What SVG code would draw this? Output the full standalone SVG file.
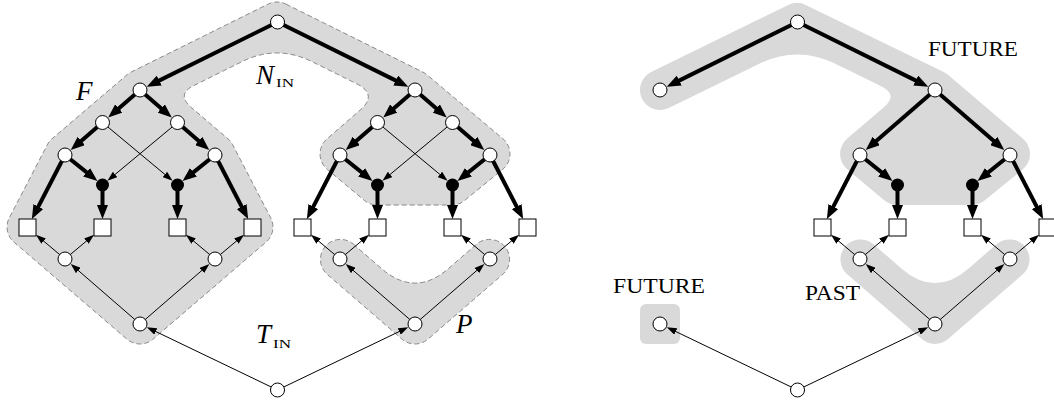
<svg xmlns="http://www.w3.org/2000/svg" width="1054" height="403" viewBox="0 0 1054 403">
<style>
.reg{fill:#d9d9d9}
.dash{stroke:#8a8a8a;stroke-width:1;stroke-dasharray:5 3}
.w{fill:#fff;stroke:#000;stroke-width:1}
.b{fill:#000}
.thick{stroke:#000;stroke-width:4;fill:none;marker-end:url(#ah)}
.thin{stroke:#000;stroke-width:1;fill:none;marker-end:url(#at)}
.it{font-family:"Liberation Serif",serif;font-style:italic;font-size:27px;fill:#000}
.sc{font-family:"Liberation Serif",serif;font-size:20px;fill:#000}
.sub{font-family:"Liberation Serif",serif;font-size:13.5px;fill:#000}
</style>
<defs>
<marker id="ah" markerUnits="userSpaceOnUse" markerWidth="15" markerHeight="11" refX="7" refY="5.5" orient="auto"><path d="M0,0 L14,5.5 L0,11 z" fill="#000"/></marker>
<marker id="at" markerUnits="userSpaceOnUse" markerWidth="10" markerHeight="7" refX="5" refY="3.5" orient="auto"><path d="M0,0 L10,3.5 L0,7 z" fill="#000"/></marker>
<path id="vshape" d="M353.1,243.9 L381.7,268.7 Q415,297.5 448.3,268.7 L476.9,243.9 A20,20 0 0 1 503.1,274.1 L428.1,339.1 A20,20 0 0 1 401.9,339.1 L326.9,274.1 A20,20 0 0 1 353.1,243.9 Z"/>
</defs>

<g id="regions">
<path id="region-F" class="reg dash" d="M285.9,4.1 L422.9,72.1 A20,20 0 0 1 426.9,74.7 L502.9,138.7 A20,20 0 0 1 502.6,169.5 L464.6,200.5 A20,20 0 0 1 452,205 L377,205 A20,20 0 0 1 364.2,200.3 L327.2,169.3 A20,20 0 0 1 326.9,138.9 L360.0,110.2 Q378.2,94.5 356.7,83.8 L311.9,61.6 Q277,44.3 242.1,61.6 L193.9,85.5 Q176.0,94.4 191.2,107.4 L228.0,138.8 A20,20 0 0 1 232.7,144.8 L270.7,217.8 A20,20 0 0 1 266.0,242.2 L153.0,339.2 A20,20 0 0 1 127.0,339.2 L14.0,242.2 A20,20 0 0 1 9.3,217.8 L47.3,144.8 A20,20 0 0 1 52.0,138.8 L127.0,74.8 A20,20 0 0 1 131.1,72.1 L268.1,4.1 A20,20 0 0 1 285.9,4.1 Z"/>
<use id="region-P" href="#vshape" class="reg dash"/>
<path id="region-future-main" class="reg" d="M651.2,72.0 L788.2,5.0 A20,20 0 0 1 805.7,5.0 L943.7,72.0 A20,20 0 0 1 948.0,74.8 L1023.0,138.8 A20,20 0 0 1 1022.6,169.5 L984.6,200.5 A20,20 0 0 1 972,205 L897,205 A20,20 0 0 1 884.2,200.3 L847.2,169.3 A20,20 0 0 1 847.0,138.8 L883.6,107.6 Q898.8,94.6 880.8,85.9 L834.8,63.5 Q797,45.2 759.3,63.7 L668.8,108.0 A20,20 0 0 1 651.2,72.0 Z"/>
<use id="region-past" href="#vshape" class="reg" transform="translate(520,0)"/>
<rect id="region-future-small" class="reg" x="640" y="304" width="40" height="40" rx="6"/>
</g>

<g id="connectors">
<line class="thick" x1="277.5" y1="22" x2="153.0" y2="83.6"/>
<line class="thick" x1="277.5" y1="22" x2="402.0" y2="83.6"/>
<line class="thick" x1="140" y1="90" x2="113.5" y2="113.0"/>
<line class="thick" x1="140" y1="90" x2="166.5" y2="113.0"/>
<line class="thick" x1="102.5" y1="122.5" x2="76.0" y2="145.5"/>
<line class="thick" x1="177.5" y1="122.5" x2="204.0" y2="145.5"/>
<line class="thick" x1="65" y1="155" x2="92.0" y2="176.6"/>
<line class="thick" x1="215" y1="155" x2="188.0" y2="176.6"/>
<line class="thick" x1="65" y1="155" x2="35.1" y2="212.8"/>
<line class="thick" x1="215" y1="155" x2="244.9" y2="212.8"/>
<line class="thick" x1="102.5" y1="185" x2="102.5" y2="212.0"/>
<line class="thick" x1="177.5" y1="185" x2="177.5" y2="212.0"/>
<line class="thin" x1="102.5" y1="122.5" x2="168.7" y2="177.6"/>
<line class="thin" x1="177.5" y1="122.5" x2="111.3" y2="177.6"/>
<line class="thin" x1="65" y1="259" x2="39.8" y2="237.9"/>
<line class="thin" x1="65" y1="259" x2="90.2" y2="237.9"/>
<line class="thin" x1="215" y1="259" x2="189.8" y2="237.9"/>
<line class="thin" x1="215" y1="259" x2="240.2" y2="237.9"/>
<line class="thin" x1="140" y1="324" x2="74.5" y2="267.2"/>
<line class="thin" x1="140" y1="324" x2="205.6" y2="267.2"/>
<line class="thin" x1="277.5" y1="390" x2="151.3" y2="329.4"/>
<line class="thin" x1="277.5" y1="390" x2="403.7" y2="329.4"/>
<line class="thick" x1="415" y1="90" x2="388.5" y2="113.0"/>
<line class="thick" x1="415" y1="90" x2="441.5" y2="113.0"/>
<line class="thick" x1="377.5" y1="122.5" x2="351.0" y2="145.5"/>
<line class="thick" x1="452.5" y1="122.5" x2="479.0" y2="145.5"/>
<line class="thick" x1="340" y1="155" x2="367.0" y2="176.6"/>
<line class="thick" x1="490" y1="155" x2="463.0" y2="176.6"/>
<line class="thick" x1="340" y1="155" x2="310.1" y2="212.8"/>
<line class="thick" x1="490" y1="155" x2="519.9" y2="212.8"/>
<line class="thick" x1="377.5" y1="185" x2="377.5" y2="212.0"/>
<line class="thick" x1="452.5" y1="185" x2="452.5" y2="212.0"/>
<line class="thin" x1="377.5" y1="122.5" x2="443.7" y2="177.6"/>
<line class="thin" x1="452.5" y1="122.5" x2="386.3" y2="177.6"/>
<line class="thin" x1="340" y1="259" x2="314.8" y2="237.9"/>
<line class="thin" x1="340" y1="259" x2="365.2" y2="237.9"/>
<line class="thin" x1="490" y1="259" x2="464.8" y2="237.9"/>
<line class="thin" x1="490" y1="259" x2="515.2" y2="237.9"/>
<line class="thin" x1="415" y1="324" x2="349.5" y2="267.2"/>
<line class="thin" x1="415" y1="324" x2="480.6" y2="267.2"/>
<line class="thick" x1="797.5" y1="22" x2="673.0" y2="83.6"/>
<line class="thick" x1="797.5" y1="22" x2="922.0" y2="83.6"/>
<line class="thick" x1="935" y1="90" x2="871.0" y2="145.5"/>
<line class="thick" x1="935" y1="90" x2="999.0" y2="145.5"/>
<line class="thick" x1="860" y1="155" x2="887.0" y2="176.6"/>
<line class="thick" x1="1010" y1="155" x2="983.0" y2="176.6"/>
<line class="thick" x1="860" y1="155" x2="830.1" y2="212.8"/>
<line class="thick" x1="1010" y1="155" x2="1039.9" y2="212.8"/>
<line class="thick" x1="897.5" y1="185" x2="897.5" y2="212.0"/>
<line class="thick" x1="972.5" y1="185" x2="972.5" y2="212.0"/>
<line class="thin" x1="860" y1="259" x2="834.8" y2="237.9"/>
<line class="thin" x1="860" y1="259" x2="885.2" y2="237.9"/>
<line class="thin" x1="1010" y1="259" x2="984.8" y2="237.9"/>
<line class="thin" x1="1010" y1="259" x2="1035.2" y2="237.9"/>
<line class="thin" x1="935" y1="324" x2="869.5" y2="267.2"/>
<line class="thin" x1="935" y1="324" x2="1000.6" y2="267.2"/>
<line class="thin" x1="797.5" y1="390" x2="671.3" y2="329.4"/>
<line class="thin" x1="797.5" y1="390" x2="923.7" y2="329.4"/>
</g>

<g id="n-top"><circle class="w" cx="277.5" cy="22" r="7"/></g>
<g id="n-l1"><circle class="w" cx="140" cy="90" r="7"/></g>
<g id="n-l2a"><circle class="w" cx="102.5" cy="122.5" r="7"/></g>
<g id="n-l2b"><circle class="w" cx="177.5" cy="122.5" r="7"/></g>
<g id="n-l3a"><circle class="w" cx="65" cy="155" r="7"/></g>
<g id="n-l3b"><circle class="w" cx="215" cy="155" r="7"/></g>
<g id="n-lba"><circle class="b" cx="102.5" cy="185" r="6.5"/></g>
<g id="n-lbb"><circle class="b" cx="177.5" cy="185" r="6.5"/></g>
<g id="n-ls1"><rect class="w" x="19" y="219" width="17" height="17"/></g>
<g id="n-ls2"><rect class="w" x="94" y="219" width="17" height="17"/></g>
<g id="n-ls3"><rect class="w" x="169" y="219" width="17" height="17"/></g>
<g id="n-ls4"><rect class="w" x="244" y="219" width="17" height="17"/></g>
<g id="n-lc1"><circle class="w" cx="65" cy="259" r="7"/></g>
<g id="n-lc2"><circle class="w" cx="215" cy="259" r="7"/></g>
<g id="n-lbot"><circle class="w" cx="140" cy="324" r="7"/></g>
<g id="n-r1"><circle class="w" cx="415" cy="90" r="7"/></g>
<g id="n-r2a"><circle class="w" cx="377.5" cy="122.5" r="7"/></g>
<g id="n-r2b"><circle class="w" cx="452.5" cy="122.5" r="7"/></g>
<g id="n-r3a"><circle class="w" cx="340" cy="155" r="7"/></g>
<g id="n-r3b"><circle class="w" cx="490" cy="155" r="7"/></g>
<g id="n-rba"><circle class="b" cx="377.5" cy="185" r="6.5"/></g>
<g id="n-rbb"><circle class="b" cx="452.5" cy="185" r="6.5"/></g>
<g id="n-rs1"><rect class="w" x="294" y="219" width="17" height="17"/></g>
<g id="n-rs2"><rect class="w" x="369" y="219" width="17" height="17"/></g>
<g id="n-rs3"><rect class="w" x="444" y="219" width="17" height="17"/></g>
<g id="n-rs4"><rect class="w" x="519" y="219" width="17" height="17"/></g>
<g id="n-rc1"><circle class="w" cx="340" cy="259" r="7"/></g>
<g id="n-rc2"><circle class="w" cx="490" cy="259" r="7"/></g>
<g id="n-rbot"><circle class="w" cx="415" cy="324" r="7"/></g>
<g id="n-root"><circle class="w" cx="277.5" cy="390" r="7"/></g>

<g id="m-top"><circle class="w" cx="797.5" cy="22" r="7"/></g>
<g id="m-left"><circle class="w" cx="660" cy="90" r="7"/></g>
<g id="m-r1"><circle class="w" cx="935" cy="90" r="7"/></g>
<g id="m-r3a"><circle class="w" cx="860" cy="155" r="7"/></g>
<g id="m-r3b"><circle class="w" cx="1010" cy="155" r="7"/></g>
<g id="m-rba"><circle class="b" cx="897.5" cy="185" r="6.5"/></g>
<g id="m-rbb"><circle class="b" cx="972.5" cy="185" r="6.5"/></g>
<g id="m-rs1"><rect class="w" x="814" y="219" width="17" height="17"/></g>
<g id="m-rs2"><rect class="w" x="889" y="219" width="17" height="17"/></g>
<g id="m-rs3"><rect class="w" x="964" y="219" width="17" height="17"/></g>
<g id="m-rs4"><rect class="w" x="1039" y="219" width="17" height="17"/></g>
<g id="m-rc1"><circle class="w" cx="860" cy="259" r="7"/></g>
<g id="m-rc2"><circle class="w" cx="1010" cy="259" r="7"/></g>
<g id="m-rbot"><circle class="w" cx="935" cy="324" r="7"/></g>
<g id="m-fut"><circle class="w" cx="660" cy="324" r="7"/></g>
<g id="m-root"><circle class="w" cx="797.5" cy="390" r="7"/></g>

<g id="labels">
<text class="it" x="76" y="100">F</text>
<text class="it" x="256" y="84">N</text>
<text class="sub" x="276" y="87" textLength="18" lengthAdjust="spacingAndGlyphs">IN</text>
<text class="it" x="256" y="343">T</text>
<text class="sub" x="273" y="348" textLength="18" lengthAdjust="spacingAndGlyphs">IN</text>
<text class="it" x="456" y="333">P</text>
<text class="sc" x="928" y="56" textLength="90" lengthAdjust="spacingAndGlyphs">FUTURE</text>
<text class="sc" x="613" y="293" textLength="92" lengthAdjust="spacingAndGlyphs">FUTURE</text>
<text class="sc" x="805" y="300" textLength="55" lengthAdjust="spacingAndGlyphs">PAST</text>
</g>
</svg>
